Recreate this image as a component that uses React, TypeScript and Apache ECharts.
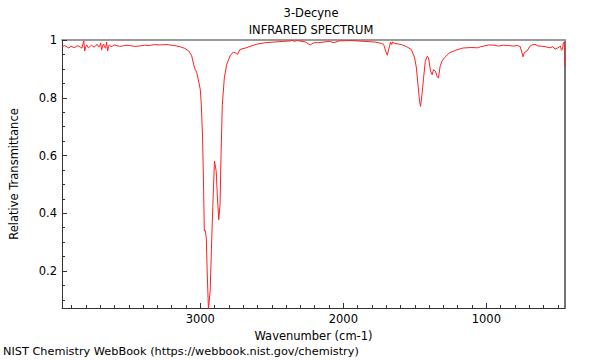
import React, { useEffect, useRef } from "react";
import * as echarts from "echarts";

const titleText = "3-Decyne";
const subTitleText = "INFRARED SPECTRUM";
const footerText = "NIST Chemistry WebBook (https://webbook.nist.gov/chemistry)";
const xName = "Wavenumber (cm-1)";
const yName = "Relative Transmittance";

const xMajorTicks = [1000, 2000, 3000];
const xMinorTicks = [500, 600, 700, 800, 900, 1100, 1200, 1300, 1400, 1500, 1600, 1700, 1800, 1900, 2100, 2200, 2300, 2400, 2500, 2600, 2700, 2800, 2900, 3100, 3200, 3300, 3400, 3500, 3600, 3700, 3800, 3900];
const yMajorTicks = [0.2, 0.4, 0.6, 0.8, 1];
const yMinorTicks = [0.1, 0.15, 0.25, 0.3, 0.35, 0.45, 0.5, 0.55, 0.65, 0.7, 0.75, 0.85, 0.9, 0.95];

const wavenumbers = [
  3963, 3950, 3932, 3918, 3905, 3890, 3877, 3862, 3849, 3838, 3828, 3815, 3808, 3800, 3794, 3783, 3773, 3762, 3752, 3741,
  3731, 3721, 3711, 3704, 3697, 3690, 3683, 3676, 3669, 3662, 3655, 3648, 3641, 3635, 3625, 3614, 3600, 3586, 3565, 3545,
  3520, 3496, 3460, 3427, 3390, 3358, 3320, 3289, 3233, 3185, 3143, 3109, 3081, 3060, 3046, 3035, 3026, 3012, 3000, 2993,
  2984, 2977, 2972, 2965, 2958, 2952, 2943, 2931, 2920, 2908, 2901, 2889, 2880, 2871, 2862, 2855, 2846, 2832, 2816, 2792,
  2770, 2747, 2740, 2723, 2680, 2610, 2541, 2424, 2368, 2354, 2347, 2320, 2264, 2243, 2230, 2209, 2174, 2098, 2064, 2029,
  1939, 1849, 1780, 1732, 1718, 1704, 1692, 1683, 1669, 1662, 1655, 1641, 1614, 1593, 1558, 1524, 1501, 1489, 1478, 1467,
  1460, 1450, 1439, 1427, 1413, 1404, 1390, 1379, 1369, 1356, 1344, 1335, 1323, 1311, 1294, 1259, 1224, 1166, 1109, 1062,
  1039, 1019, 984, 950, 915, 880, 846, 811, 784, 763, 751, 744, 735, 716, 694, 680, 659, 638, 624, 589,
  555, 534, 520, 500, 481, 476, 467, 462, 455, 451,
];
const transmittance = [
  0.977, 0.981, 0.976, 0.972, 0.979, 0.975, 0.974, 0.98, 0.979, 0.975, 0.972, 0.997, 0.962, 0.978, 0.983, 0.973, 0.976, 0.982, 0.979, 0.975,
  0.981, 0.985, 0.976, 0.978, 0.99, 0.965, 0.982, 0.986, 0.975, 0.972, 0.993, 0.962, 0.978, 0.983, 0.977, 0.979, 0.983, 0.981, 0.978, 0.979,
  0.982, 0.981, 0.978, 0.979, 0.982, 0.981, 0.984, 0.983, 0.984, 0.981, 0.977, 0.971, 0.962, 0.945, 0.914, 0.897, 0.889, 0.858, 0.828, 0.776,
  0.661, 0.487, 0.339, 0.34, 0.314, 0.2, 0.068, 0.131, 0.314, 0.487, 0.581, 0.546, 0.453, 0.378, 0.43, 0.603, 0.776, 0.868, 0.914, 0.945,
  0.958, 0.954, 0.95, 0.967, 0.973, 0.985, 0.991, 0.995, 0.997, 1.0, 0.995, 0.998, 0.993, 0.986, 0.983, 0.99, 0.991, 0.995, 0.991, 0.997,
  0.998, 0.995, 0.993, 0.988, 0.985, 0.962, 0.947, 0.968, 0.993, 0.984, 0.993, 0.988, 0.986, 0.984, 0.977, 0.967, 0.938, 0.903, 0.845, 0.788,
  0.77, 0.811, 0.868, 0.926, 0.944, 0.938, 0.892, 0.88, 0.897, 0.892, 0.874, 0.868, 0.909, 0.926, 0.938, 0.955, 0.963, 0.972, 0.974, 0.973,
  0.977, 0.979, 0.983, 0.982, 0.979, 0.982, 0.981, 0.979, 0.981, 0.977, 0.956, 0.942, 0.956, 0.962, 0.979, 0.983, 0.985, 0.979, 0.979, 0.977,
  0.973, 0.977, 0.968, 0.973, 0.979, 0.965, 0.968, 0.99, 0.993, 0.91,
];

const X_MIN = 450;
const X_MAX = 3967;
const Y_MIN = 0.072;
const Y_MAX = 1;

const FONT = "DejaVu Sans";
const FS = 11.5;

export default function App() {
  const ref = useRef<HTMLDivElement>(null);
  useEffect(() => {
    if (!ref.current) return;
    const chart = echarts.init(ref.current, null, { renderer: "svg" });
    const data = wavenumbers.map((w, i) => [w, transmittance[i]]);
    const textStyle = { color: "#000", fontFamily: FONT, fontSize: FS, fontWeight: "normal" as const };
    chart.setOption({
      animation: false,
      backgroundColor: "#fff",
      textStyle: { fontFamily: FONT },
      title: [
        { text: titleText, left: 311, top: 7, textAlign: "center", padding: 0, textStyle },
        { text: subTitleText, left: 311, top: 24, textAlign: "center", padding: 0, textStyle },
        { text: footerText, left: 3, top: 346, padding: 0, textStyle: { ...textStyle, fontSize: 11.3 } },
      ],
      grid: { left: 57, right: 35, top: 40, bottom: 52, containLabel: false },
      xAxis: [
        {
          type: "value", min: X_MIN, max: X_MAX, inverse: true, position: "bottom",
          axisLine: { show: true, lineStyle: { color: "#333", width: 1 } },
          axisTick: { show: true, inside: true, length: 5, customValues: xMajorTicks, lineStyle: { color: "#333" } },
          axisLabel: { show: true, customValues: xMajorTicks, margin: 5, ...textStyle, formatter: (v: number) => String(v) },
          splitLine: { show: false },
          name: xName, nameLocation: "middle", nameGap: 18, nameTextStyle: textStyle,
        },
        {
          type: "value", min: X_MIN, max: X_MAX, inverse: true, position: "bottom",
          axisLine: { show: false },
          axisTick: { show: true, inside: true, length: 3, customValues: xMinorTicks, lineStyle: { color: "#333" } },
          axisLabel: { show: false },
          splitLine: { show: false },
        },
        {
          type: "value", min: X_MIN, max: X_MAX, inverse: true, position: "top",
          axisLine: { show: true, lineStyle: { color: "#9a9a9a", width: 2 } },
          axisTick: { show: false }, axisLabel: { show: false }, splitLine: { show: false },
        },
      ],
      yAxis: [
        {
          type: "value", min: Y_MIN, max: Y_MAX, position: "left",
          axisLine: { show: true, lineStyle: { color: "#333", width: 1 } },
          axisTick: { show: true, inside: true, length: 5, customValues: yMajorTicks, lineStyle: { color: "#333" } },
          axisLabel: {
            show: true, customValues: yMajorTicks, margin: 5, ...textStyle,
            formatter: (v: number) => (Math.abs(v - 1) < 1e-9 ? "1" : v.toFixed(1)),
          },
          splitLine: { show: false },
          name: yName, nameLocation: "middle", nameGap: 42, nameTextStyle: textStyle,
        },
        {
          type: "value", min: Y_MIN, max: Y_MAX, position: "left",
          axisLine: { show: false },
          axisTick: { show: true, inside: true, length: 3, customValues: yMinorTicks, lineStyle: { color: "#333" } },
          axisLabel: { show: false },
          splitLine: { show: false },
        },
        {
          type: "value", min: Y_MIN, max: Y_MAX, position: "right",
          axisLine: { show: true, lineStyle: { color: "#444", width: 1.5 } },
          axisTick: { show: false }, axisLabel: { show: false }, splitLine: { show: false },
        },
      ],
      series: [
        {
          type: "line", xAxisIndex: 0, yAxisIndex: 0, data, showSymbol: false, symbol: "none",
          lineStyle: { color: "#ff2020", width: 1 }, clip: true,
        },
      ],
    });
    return () => chart.dispose();
  }, []);
  return <div ref={ref} style={{ width: 600, height: 360, position: "absolute", left: 0, top: 0 }} />;
}
